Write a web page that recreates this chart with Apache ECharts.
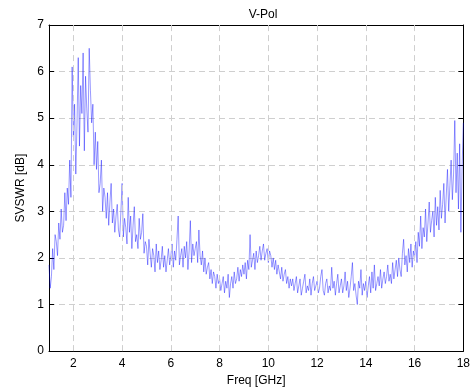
<!DOCTYPE html>
<html>
<head>
<meta charset="utf-8">
<script src="https://cdn.jsdelivr.net/npm/echarts@6/dist/echarts.min.js"></script>
<style>html,body{margin:0;padding:0;background:#fff}#c{width:473px;height:392px}</style>
</head>
<body>
<div id="c"></div>
<script>
const freqStart = 1.0;
const freqStep = 0.05;
const xTicks = [2, 4, 6, 8, 10, 12, 14, 16, 18];
const yTicks = [0, 1, 2, 3, 4, 5, 6, 7];
const svswr = [
  // 1.00 - 1.95
  1.85, 1.35, 1.60, 2.20, 1.75, 2.50, 2.35, 2.05, 2.75, 2.40, 3.05, 2.55, 2.70, 3.40, 2.80, 3.50, 3.15, 4.10, 3.30, 6.10,
  // 2.00 - 2.95
  4.60, 5.30, 3.80, 4.90, 6.30, 4.40, 5.70, 5.10, 6.40, 4.30, 5.90, 5.20, 4.70, 6.50, 5.60, 4.90, 5.30, 4.00, 4.70, 3.90,
  // 3.00 - 3.95
  4.50, 3.40, 3.60, 4.10, 3.00, 3.50, 3.30, 2.85, 3.40, 2.70, 3.20, 3.60, 2.75, 3.05, 2.55, 2.90, 3.15, 2.60, 2.45, 3.00,
  // 4.00 - 4.95
  3.60, 2.45, 2.85, 2.65, 2.30, 3.30, 2.55, 2.90, 2.20, 2.70, 3.10, 2.35, 2.50, 2.20, 2.85, 2.40, 2.55, 2.95, 2.10, 2.35,
  // 5.00 - 5.95
  2.25, 1.85, 2.40, 2.10, 1.80, 2.20, 2.05, 1.70, 2.30, 1.90, 2.15, 1.75, 1.95, 2.25, 1.80, 2.05, 1.70, 1.95, 2.20, 1.85,
  // 6.00 - 6.95
  2.05, 2.30, 1.80, 2.15, 1.95, 2.40, 2.90, 1.85, 2.05, 2.20, 1.80, 2.25, 2.00, 2.35, 1.75, 2.15, 2.80, 1.90, 2.30, 2.05,
  // 7.00 - 7.95
  2.20, 2.35, 1.90, 2.60, 2.05, 1.85, 2.15, 1.70, 2.00, 1.65, 1.80, 1.90, 1.55, 1.75, 1.45, 1.70, 1.60, 1.35, 1.65, 1.45,
  // 8.00 - 8.95
  1.55, 1.30, 1.45, 1.60, 1.25, 1.50, 1.35, 1.65, 1.15, 1.45, 1.60, 1.35, 1.70, 1.45, 1.55, 1.80, 1.50, 1.75, 1.60, 1.85,
  // 9.00 - 9.95
  1.65, 1.90, 1.55, 1.95, 1.75, 2.50, 1.80, 1.95, 2.10, 1.75, 2.15, 1.90, 2.05, 2.25, 1.95, 2.15, 2.30, 1.95, 2.10, 2.20,
  // 10.00 - 10.95
  1.90, 2.15, 2.05, 1.80, 2.00, 1.75, 1.95, 1.65, 1.85, 1.70, 1.55, 1.80, 1.50, 1.65, 1.75, 1.45, 1.60, 1.35, 1.55, 1.40,
  // 11.00 - 11.95
  1.55, 1.30, 1.45, 1.60, 1.25, 1.40, 1.55, 1.20, 1.35, 1.50, 1.65, 1.25, 1.40, 1.30, 1.55, 1.20, 1.45, 1.60, 1.30, 1.40,
  // 12.00 - 12.95
  1.50, 1.25, 1.35, 1.60, 1.75, 1.30, 1.20, 1.45, 1.55, 1.25, 1.40, 1.30, 1.80, 1.35, 1.50, 1.20, 1.45, 1.65, 1.25, 1.40,
  // 13.00 - 13.95
  1.55, 1.25, 1.40, 1.70, 1.30, 1.50, 1.15, 1.35, 1.60, 1.90, 1.30, 1.45, 1.20, 1.00, 1.50, 1.35, 1.75, 1.20, 1.45, 1.30,
  // 14.00 - 14.95
  1.50, 1.15, 1.40, 1.60, 1.25, 1.70, 1.35, 1.85, 1.30, 1.45, 1.60, 1.40, 1.75, 1.35, 1.55, 1.70, 1.45, 1.60, 1.85, 1.50,
  // 15.00 - 15.95
  1.65, 1.45, 1.90, 1.55, 1.75, 1.95, 1.60, 2.00, 1.75, 1.60, 2.10, 2.40, 1.85, 2.05, 1.70, 2.20, 1.90, 2.30, 1.80, 2.15,
  // 16.00 - 16.95
  2.00, 2.35, 1.90, 2.55, 2.25, 2.90, 2.20, 2.65, 2.45, 3.05, 2.35, 2.75, 3.20, 2.55, 2.80, 3.00, 2.45, 3.30, 2.70, 3.10,
  // 17.00 - 17.95
  2.60, 3.45, 2.85, 3.15, 3.60, 2.75, 3.35, 3.90, 3.00, 3.55, 4.10, 3.25, 3.80, 4.95, 3.40, 4.25, 3.05, 4.45, 2.55, 3.95,
  // 18.00
  4.90
];

const seriesData = svswr.map((v, i) => [+(freqStart + i * freqStep).toFixed(2), v]);

const font = 'Liberation Sans, Arial, Helvetica, sans-serif';
const gridColor = '#cfcfcf';
const gridType = [6, 4];

const chart = echarts.init(document.getElementById('c'), null, { renderer: 'canvas' });
chart.setOption({
  animation: false,
  backgroundColor: '#fff',
  title: {
    text: 'V-Pol', left: 258, top: 4, textAlign: 'center',
    textStyle: { fontFamily: font, fontSize: 12, fontWeight: 'normal', color: '#000' }
  },
  grid: { left: 49, right: 6, top: 25, bottom: 38, containLabel: false },
  xAxis: [
    {
      type: 'value', min: 1, max: 18, position: 'bottom',
      name: 'Freq [GHz]', nameLocation: 'middle', nameGap: 23,
      nameTextStyle: { fontFamily: font, fontSize: 12, color: '#000' },
      axisLine: { show: true, onZero: false, lineStyle: { color: '#000', width: 1 } },
      axisTick: { show: true, inside: true, length: 5, customValues: xTicks, lineStyle: { color: '#000' } },
      axisLabel: { show: true, customValues: xTicks, margin: 7, fontFamily: font, fontSize: 12, color: '#000' },
      splitLine: { show: false }
    },
    {
      type: 'value', min: 1, max: 18, position: 'top',
      axisLine: { show: true, onZero: false, lineStyle: { color: '#000', width: 1 } },
      axisTick: { show: true, inside: true, length: 5, customValues: xTicks, lineStyle: { color: '#000' } },
      axisLabel: { show: false },
      splitLine: { show: false }
    }
  ],
  yAxis: [
    {
      type: 'value', min: 0, max: 7, interval: 1, position: 'left',
      name: 'SVSWR [dB]', nameLocation: 'middle', nameGap: 22, nameRotate: 90,
      nameTextStyle: { fontFamily: font, fontSize: 12, color: '#000' },
      axisLine: { show: true, onZero: false, lineStyle: { color: '#000', width: 1 } },
      axisTick: { show: true, inside: true, length: 5, lineStyle: { color: '#000' } },
      axisLabel: { show: true, margin: 5, fontFamily: font, fontSize: 12, color: '#000' },
      splitLine: { show: true, lineStyle: { color: gridColor, type: gridType, width: 1 } }
    },
    {
      type: 'value', min: 0, max: 7, interval: 1, position: 'right',
      axisLine: { show: true, onZero: false, lineStyle: { color: '#000', width: 1 } },
      axisTick: { show: true, inside: true, length: 5, lineStyle: { color: '#000' } },
      axisLabel: { show: false },
      splitLine: { show: false }
    }
  ],
  series: [
    {
      type: 'line', data: [], z: 1, silent: true,
      markLine: {
        silent: true, symbol: 'none', label: { show: false }, animation: false,
        lineStyle: { color: gridColor, type: gridType, width: 1 },
        data: xTicks.filter(t => t < 18).map(t => ({ xAxis: t }))
      }
    },
    {
      type: 'line', data: seriesData, showSymbol: false, symbol: 'none',
      lineStyle: { color: '#0000ff', width: 1, opacity: 0.4 },
      z: 3
    }
  ]
});
</script>
</body>
</html>
